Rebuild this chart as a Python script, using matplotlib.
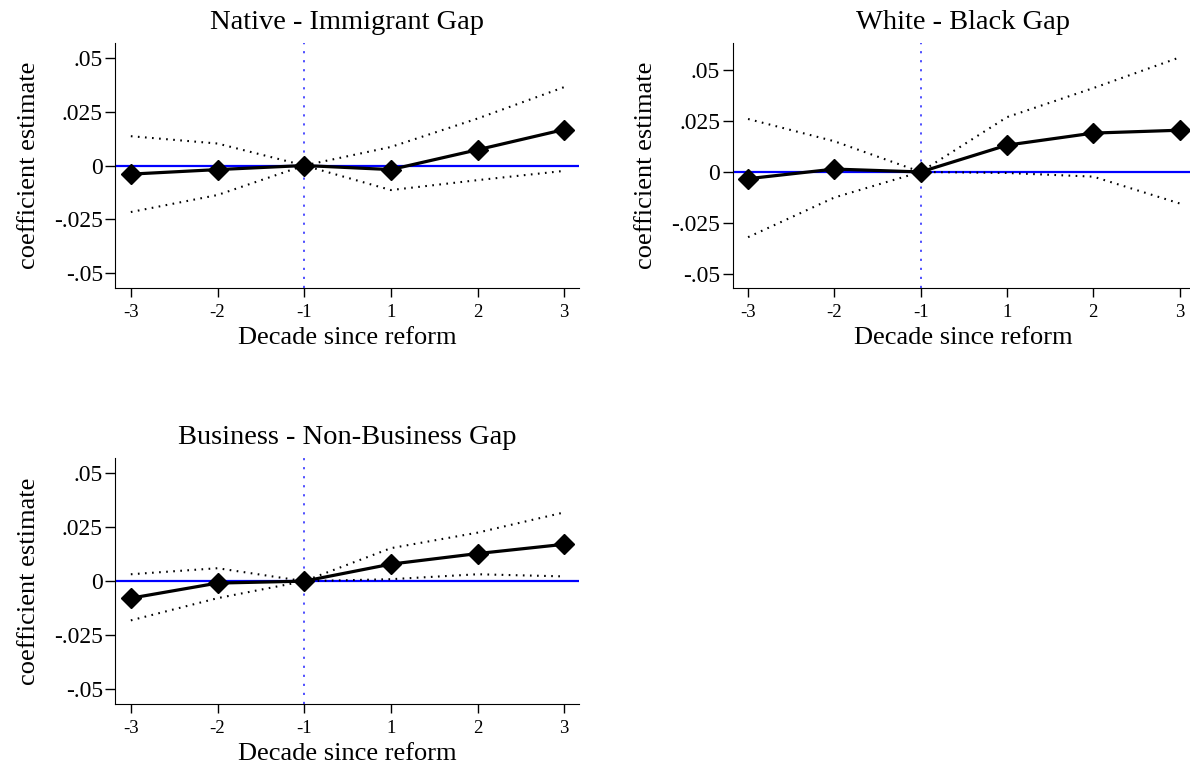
import numpy as np
import matplotlib
matplotlib.use('Agg')
import matplotlib.pyplot as plt

plt.rcParams['font.family'] = ['Liberation Serif', 'DejaVu Serif']

decade_labels = ['-3', '-2', '-1', '1', '2', '3']

native_coef = [-0.0040, -0.0019, 0.0, -0.0019, 0.0073, 0.0167]
native_hi = [0.0136, 0.0102, 0.0, 0.0086, 0.0218, 0.0364]
native_lo = [-0.0216, -0.0137, 0.0, -0.0114, -0.0068, -0.0025]

white_coef = [-0.0033, 0.0014, 0.0, 0.0131, 0.0190, 0.0204]
white_hi = [0.0259, 0.0150, 0.0, 0.0268, 0.0410, 0.0560]
white_lo = [-0.0319, -0.0125, 0.0, -0.0005, -0.0023, -0.0154]

business_coef = [-0.0079, -0.0009, 0.0, 0.0079, 0.0128, 0.0171]
business_hi = [0.0032, 0.0060, 0.0, 0.0153, 0.0225, 0.0319]
business_lo = [-0.0182, -0.0079, 0.0, 0.0009, 0.0032, 0.0022]

ytick_vals = [-0.05, -0.025, 0, 0.025, 0.05]
ytick_labels = ['-.05', '-.025', '0', '.025', '.05']

W, H = 1190, 767


def add_axes_px(fig, l, t, r, b):
    return fig.add_axes([l / W, 1 - b / H, (r - l) / W, (b - t) / H])


def draw_panel(ax, title, coef, lo, hi, ylim):
    x = np.arange(len(decade_labels))
    ref = decade_labels.index('-1')

    ax.axhline(0, color='blue', lw=1.6, zorder=1)
    ax.axvline(ref, color='#4040ff', lw=1.3, dashes=(1.2, 3.8), zorder=1)

    # confidence bands, Stata-style dotted
    ax.plot(x, hi, color='black', lw=1.5, dashes=(0.8, 2.6), zorder=2)
    ax.plot(x, lo, color='black', lw=1.5, dashes=(0.8, 2.6), zorder=2)
    ax.plot(x, coef, color='black', lw=2.3, marker='D', markersize=10.5, zorder=3)

    ax.set_xlim(-0.178, 5.168)
    ax.set_ylim(*ylim)
    ax.set_xticks(x)
    ax.set_xticklabels(decade_labels, fontsize=13.5)
    ax.set_yticks(ytick_vals)
    ax.set_yticklabels(ytick_labels, fontsize=17)
    ax.tick_params(axis='y', length=7, width=1, pad=2)
    ax.tick_params(axis='x', length=6.5, width=1, pad=5)
    ax.spines['top'].set_visible(False)
    ax.spines['right'].set_visible(False)
    ax.set_xlabel('Decade since reform', fontsize=19, labelpad=4)
    ax.set_ylabel('coefficient estimate', fontsize=19, labelpad=10)
    ax.set_title(title, fontsize=20.5, pad=10)


fig = plt.figure(figsize=(W / 100, H / 100), dpi=100)

ax1 = add_axes_px(fig, 115.4, 42.7, 578.8, 288.3)
draw_panel(ax1, 'Native - Immigrant Gap', native_coef, native_lo, native_hi, (-0.057, 0.057))

ax2 = add_axes_px(fig, 732.7, 42.7, 1194.1, 288.3)
draw_panel(ax2, 'White - Black Gap', white_coef, white_lo, white_hi, (-0.0569, 0.0632))

ax3 = add_axes_px(fig, 115.4, 458.3, 578.8, 704.0)
draw_panel(ax3, 'Business - Non-Business Gap', business_coef, business_lo, business_hi, (-0.057, 0.057))

fig.savefig('out.png', dpi=100)
